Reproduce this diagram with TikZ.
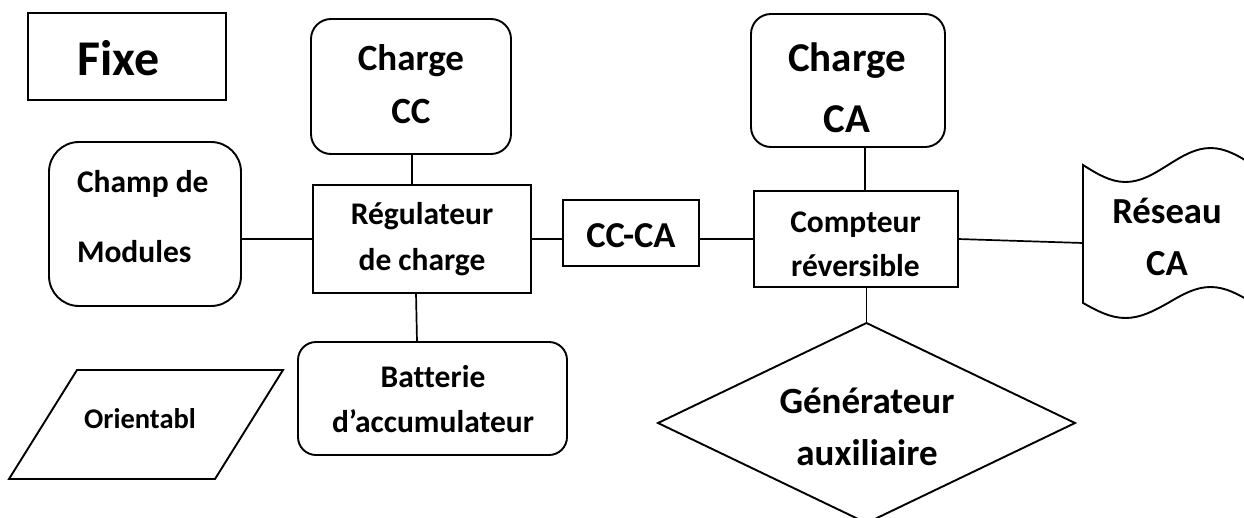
\documentclass[tikz,border=0pt]{standalone}
\usepackage{fontspec}
\setmainfont{Carlito}[Ligatures={NoCommon}]
\usetikzlibrary{shapes.geometric}
\begin{document}
\begin{tikzpicture}[x=1pt,y=-1pt,
  line width=1.9pt,
  shp/.style={draw, inner sep=0pt, outer sep=0pt},
  rbox/.style={shp, rectangle},
  rrbox/.style={shp, rectangle, rounded corners=#1},
  txt/.style={anchor=base, inner sep=0pt, outer sep=0pt, font=\bfseries\fontsize{#1}{#1}\selectfont},
  wire/.style={line width=1.7pt}]
\useasboundingbox (0,0) rectangle (1244,517);

% Fixe
\node[rbox, minimum width=198pt, minimum height=87pt] (fixe) at (127,56.5) {};
\node[txt=50] (fixe-t) at (118.5,75) {Fixe};

% Charge CC
\node[rrbox=20pt, minimum width=200pt, minimum height=135pt] (ccc) at (411,86.5) {};
\node[txt=37] (ccc-t1) at (411,70) {Charge};
\node[txt=37] (ccc-t2) at (411,123) {CC};

% Charge CA
\node[rrbox=20pt, minimum width=194pt, minimum height=133pt] (chca) at (848,80.5) {};
\node[txt=41] (chca-t1) at (847,71) {Charge};
\node[txt=41] (chca-t2) at (847,132) {CA};

% Champ de Modules
\node[rrbox=30pt, minimum width=192pt, minimum height=164pt] (champ) at (145,224) {};
\node[txt=31.5, anchor=base west] (champ-t1) at (77,192) {Champ de};
\node[txt=31.5, anchor=base west] (champ-t2) at (77,262) {Modules};

% Regulateur
\node[rbox, minimum width=218pt, minimum height=108pt] (reg) at (422,239) {};
\node[txt=31.5] (reg-t1) at (422,224) {Régulateur};
\node[txt=31.5] (reg-t2) at (422,270) {de charge};

% CC-CA
\node[rbox, minimum width=136pt, minimum height=66pt] (ccca) at (631,233) {};
\node[txt=36.5] (ccca-t) at (631,247) {CC-CA};

% Compteur
\node[rbox, minimum width=204pt, minimum height=96pt] (compt) at (856,239) {};
\node[txt=31.5] (compt-t1) at (855.5,232) {Compteur};
\node[txt=31.5] (compt-t2) at (855.5,276) {réversible};

% Batterie
\node[rrbox=18pt, minimum width=269pt, minimum height=113pt] (batt) at (432.5,398.5) {};
\node[txt=31.5] (batt-t1) at (433,387) {Batterie};
\node[txt=31.5] (batt-t2) at (433,432) {d’accumulateur};

% Orientabl
\draw (77,370) -- (283,370) -- (215,479) -- (9,479) -- cycle;
\node[txt=28.5] (orient) at (140,428) {Orientabl};

% Generateur auxiliaire
\node[shp, diamond, minimum width=417pt, minimum height=200pt] (gen) at (866.5,423) {};
\node[txt=37] (gen-t1) at (867,413) {Générateur};
\node[txt=37] (gen-t2) at (867,465) {auxiliaire};

% Reseau CA
\draw (1083,165) sin (1125.5,182) cos (1168,165) sin (1210.5,148) cos (1253,165)
  -- (1253,303) sin (1210.5,287) cos (1168,303) sin (1125.5,318) cos (1083,303) -- cycle;
\coordinate (resw) at (1083,243);
\node[txt=36.7] (res-t1) at (1167,223) {Réseau};
\node[txt=36.7] (res-t2) at (1167,275) {CA};

% connectors
\draw[wire] ([xshift=1pt]ccc.south) -- ([xshift=1pt]ccc.south |- reg.north);
\draw[wire] (champ.east |- reg.west) -- (reg.west);
\draw[wire] ([xshift=-6pt]reg.south) -- ([xshift=-5pt]reg.south |- batt.north);
\draw[wire] (reg.east) -- (reg.east -| ccca.west);
\draw[wire] (ccca.east |- compt.west) -- (compt.west);
\draw[wire] ([xshift=9pt]compt.north) -- ([xshift=9pt]compt.north |- chca.south);
\draw[wire] (compt.south -| gen.north) -- (gen.north);
\draw[wire] (compt.east) -- (resw);
\end{tikzpicture}
\end{document}
